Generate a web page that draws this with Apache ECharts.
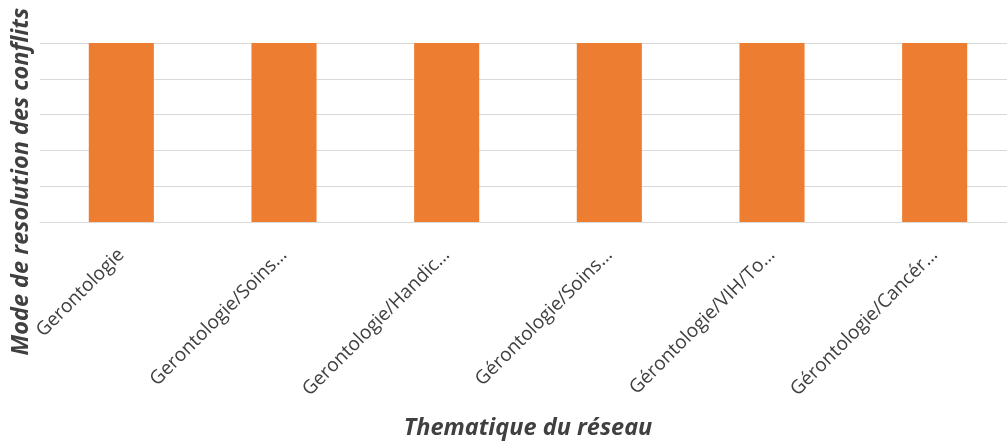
<!DOCTYPE html>
<html>
<head>
<meta charset="utf-8">
<script src="https://cdn.jsdelivr.net/npm/echarts@6/dist/echarts.min.js"></script>
<style>
html,body{margin:0;padding:0;background:#fff;}
#chart{width:1007px;height:445px;}
</style>
</head>
<body>
<div id="chart"></div>
<script>
const titleText = "Mode de resolution des conflits en fonction de la thematique du reseau";
const categories = ["Gerontologie", "Gerontologie/Soins…", "Gerontologie/Handic…", "Gérontologie/Soins…", "Gérontologie/VIH/To…", "Gérontologie/Cancér…"];
const values = [1, 1, 1, 1, 1, 1];
const yAxisName = "Mode de resolution des conflits";
const xAxisName = "Thematique du réseau";

const chart = echarts.init(document.getElementById('chart'), null, {renderer: 'canvas'});
chart.setOption({
  animation: false,
  backgroundColor: '#ffffff',
  title: {
    text: titleText,
    left: 'center',
    top: -28,
    textStyle: {fontFamily: 'Open Sans', fontWeight: 'bold', fontSize: 22, color: '#595959'}
  },
  grid: {left: 40, top: 43, width: 976, height: 179, containLabel: false, outerBoundsMode: 'none'},
  xAxis: {
    type: 'category',
    data: categories,
    name: xAxisName,
    nameLocation: 'middle',
    nameGap: 195,
    nameTextStyle: {fontFamily: 'Open Sans', fontWeight: 'bold', fontStyle: 'italic', fontSize: 23.5, color: '#404040'},
    axisLine: {show: true, lineStyle: {color: '#d9d9d9', width: 1}},
    axisTick: {show: false},
    axisLabel: {interval: 0, rotate: 45, margin: 30, fontFamily: 'Open Sans', fontSize: 19, color: '#404040'}
  },
  yAxis: {
    type: 'value',
    min: 0,
    max: 1,
    interval: 0.2,
    axisLine: {show: false},
    axisTick: {show: false},
    axisLabel: {show: false},
    splitLine: {show: true, lineStyle: {color: '#d9d9d9', width: 1}}
  },
  graphic: [{
    type: 'text',
    left: 10,
    top: 8,
    rotation: Math.PI / 2,
    style: {
      text: yAxisName,
      fontFamily: 'Open Sans', fontWeight: 'bold', fontStyle: 'italic', fontSize: 23.5, fill: '#404040'
    }
  }],
  series: [{
    type: 'bar',
    data: values,
    barWidth: '40%',
    itemStyle: {color: '#ED7D31'}
  }]
});
</script>
</body>
</html>
